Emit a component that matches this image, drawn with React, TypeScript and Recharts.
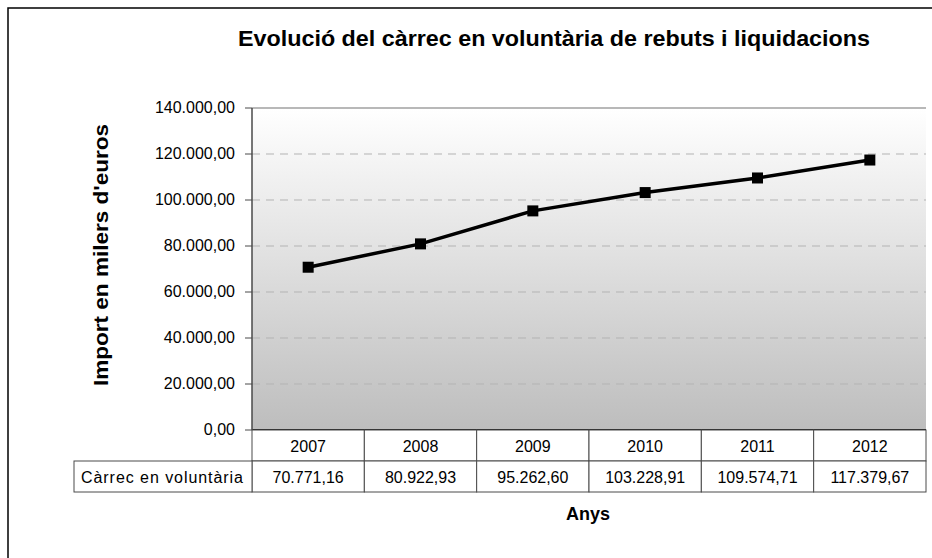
import { LineChart, Line, XAxis, YAxis, CartesianGrid, ReferenceLine } from "recharts";

const years = ["2007", "2008", "2009", "2010", "2011", "2012"];
const carrec = [70771.16, 80922.93, 95262.6, 103228.91, 109574.71, 117379.67];
const yTicks = [0, 20000, 40000, 60000, 80000, 100000, 120000, 140000];

const seriesName = "Càrrec en voluntària";
const title = "Evolució del càrrec en voluntària de rebuts i liquidacions";
const yTitle = "Import en milers d'euros";
const xTitle = "Anys";

const data = years.map((y, i) => ({ year: y, value: carrec[i] }));

const FONT = "'Liberation Sans', Arial, sans-serif";
const W = 932;
const H = 558;
const PLOT_LEFT = 252;
const PLOT_RIGHT = 926;
const COL_W = (PLOT_RIGHT - PLOT_LEFT) / years.length;
const ROW_H = 31;
const LINE_COL = "#4a4a4a";

// 70771.16 -> "70.771,16"
function fmt(v: number) {
  const [int, dec] = v.toFixed(2).split(".");
  return int.replace(/\B(?=(\d{3})+(?!\d))/g, ".") + "," + dec;
}

function YTick(props: any) {
  const { x, y, payload } = props;
  return (
    <text x={x} y={y} dy={5} textAnchor="end" fontSize={16} fontFamily={FONT} fill="#000">
      {fmt(payload.value)}
    </text>
  );
}

// each x tick draws its own column of the data table below the plot
function TableTick(props: any) {
  const { x, y, payload, index } = props;
  const left = x - COL_W / 2;
  return (
    <g>
      <rect x={left} y={y} width={COL_W} height={ROW_H} fill="#fff" stroke={LINE_COL} strokeWidth={1} />
      <rect x={left} y={y + ROW_H} width={COL_W} height={ROW_H} fill="#fff" stroke={LINE_COL} strokeWidth={1} />
      <text x={x} y={y + 22} textAnchor="middle" fontSize={16} fontFamily={FONT} fill="#000">
        {payload.value}
      </text>
      <text x={x} y={y + ROW_H + 22} textAnchor="middle" fontSize={16} fontFamily={FONT} fill="#000">
        {fmt(carrec[index])}
      </text>
      {index === 0 && (
        <g>
          <rect x={74} y={y + ROW_H} width={left - 74} height={ROW_H} fill="#fff" stroke={LINE_COL} strokeWidth={1} />
          <text x={81} y={y + ROW_H + 22} fontSize={16} fontFamily={FONT} fill="#000" textLength={162} lengthAdjust="spacing">
            {seriesName}
          </text>
        </g>
      )}
    </g>
  );
}

function SquareDot(props: any) {
  const { cx, cy, index } = props;
  return <rect key={`dot-${index}`} x={cx - 5.5} y={cy - 5.5} width={11} height={11} fill="#000" />;
}

export default function App() {
  return (
    <div style={{ position: "fixed", left: 0, top: 0, width: W, height: H, background: "#fff" }}>
      <LineChart width={W} height={H} data={data} margin={{ top: 108, right: W - PLOT_RIGHT, bottom: 0, left: 0 }}>
        <defs>
          <linearGradient id="plotBg" x1="0" y1="0" x2="0" y2="1">
            <stop offset="0%" stopColor="#ffffff" />
            <stop offset="100%" stopColor="#bdbdbd" />
          </linearGradient>
        </defs>
        <CartesianGrid
          vertical={false}
          stroke="#b3b3b3"
          strokeDasharray="8 6"
          fill="url(#plotBg)"
          fillOpacity={1}
          yAxisId="left"
        />
        <XAxis
          dataKey="year"
          scale="band"
          height={128}
          tickSize={0}
          tickMargin={0}
          tickLine={false}
          axisLine={{ stroke: "#222", strokeWidth: 2 }}
          tick={<TableTick />}
          interval={0}
        />
        <YAxis
          yAxisId="left"
          width={PLOT_LEFT}
          domain={[0, 140000]}
          ticks={yTicks}
          tickSize={7}
          tickMargin={10}
          tickLine={{ stroke: LINE_COL }}
          axisLine={{ stroke: LINE_COL, strokeWidth: 1.5 }}
          tick={<YTick />}
          interval={0}
        />
        <YAxis
          yAxisId="right"
          orientation="right"
          width={0}
          domain={[0, 140000]}
          tick={false}
          tickLine={false}
          axisLine={{ stroke: "#b8b8b8", strokeWidth: 2 }}
        />
        <ReferenceLine yAxisId="left" y={140000} stroke="#b8b8b8" strokeWidth={2} />
        <Line
          yAxisId="left"
          dataKey="value"
          stroke="#000"
          strokeWidth={3.5}
          dot={SquareDot}
          activeDot={false}
          isAnimationActive={false}
        />
      </LineChart>
      <svg width={W} height={H} style={{ position: "absolute", left: 0, top: 0, pointerEvents: "none" }}>
        <rect x={8} y={8} width={W} height={H} fill="none" stroke="#000" strokeWidth={1.5} />
        <text
          x={238}
          y={46}
          fontSize={22}
          fontWeight="bold"
          fontFamily={FONT}
          fill="#000"
          textLength={632}
          lengthAdjust="spacingAndGlyphs"
        >
          {title}
        </text>
        <text
          x={108}
          y={255}
          transform="rotate(-90 108 255)"
          textAnchor="middle"
          fontSize={21}
          fontWeight="bold"
          fontFamily={FONT}
          fill="#000"
          textLength={262}
          lengthAdjust="spacingAndGlyphs"
        >
          {yTitle}
        </text>
        <text x={588} y={520} textAnchor="middle" fontSize={18} fontWeight="bold" fontFamily={FONT} fill="#000">
          {xTitle}
        </text>
      </svg>
    </div>
  );
}
